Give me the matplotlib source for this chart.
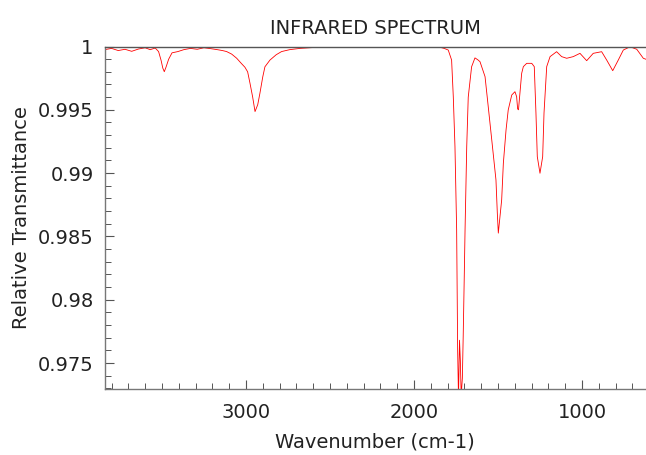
import matplotlib
matplotlib.use("Agg")
import matplotlib.pyplot as plt
from matplotlib.ticker import MultipleLocator, FuncFormatter

# Spectrum values (wavenumber cm-1, relative transmittance)
wavenumber = [
    3841, 3800, 3760, 3720, 3680, 3640, 3600, 3570, 3540, 3520, 3505, 3495, 3486,
    3475, 3460, 3440, 3405, 3370, 3330, 3290, 3250, 3210, 3170, 3140, 3115, 3085,
    3055, 3030, 3006, 2990, 2976, 2960, 2946, 2930, 2917, 2900, 2887, 2857, 2820,
    2788, 2740, 2679, 2600, 2500, 2400, 2300, 2200, 2100, 2000, 1964, 1900, 1845,
    1820, 1796, 1776, 1766, 1756, 1746, 1740, 1735, 1729, 1724, 1719, 1712, 1707,
    1701, 1696, 1686, 1677, 1657, 1637, 1620, 1607, 1577, 1558, 1537, 1512, 1504,
    1498, 1478, 1468, 1452, 1439, 1418, 1399, 1389, 1383, 1378, 1359, 1349, 1329,
    1299, 1284, 1274, 1266, 1250, 1234, 1226, 1210, 1190, 1151, 1121, 1091, 1052,
    1012, 972, 933, 883, 853, 817, 784, 754, 714, 674, 635, 619,
]
transmittance = [
    0.99975, 0.99985, 0.99968, 0.99978, 0.99962, 0.99980, 0.99990, 0.99975,
    0.99988, 0.99960, 0.99890, 0.99830, 0.99801, 0.99840, 0.99900, 0.99950,
    0.99960, 0.99975, 0.99985, 0.99978, 0.99990, 0.99983, 0.99975, 0.99968,
    0.99960, 0.99940, 0.99907, 0.99870, 0.99836, 0.99800, 0.99710, 0.99600,
    0.99486, 0.99540, 0.99630, 0.99760, 0.99840, 0.99893, 0.99935, 0.99960,
    0.99975, 0.99985, 0.99992, 0.99995, 0.99993, 0.99997, 0.99995, 0.99998,
    0.99997, 0.99998, 0.99996, 0.99994, 0.99985, 0.99972, 0.99893, 0.99604,
    0.99209, 0.98551, 0.97600, 0.97220, 0.97680, 0.97520, 0.97240, 0.97380,
    0.97710, 0.98160, 0.98550, 0.99210, 0.99600, 0.99840, 0.99910, 0.99895,
    0.99880, 0.99762, 0.99525, 0.99262, 0.98946, 0.98686, 0.98526, 0.98789,
    0.99078, 0.99341, 0.99499, 0.99617, 0.99643, 0.99604, 0.99507, 0.99500,
    0.99788, 0.99841, 0.99867, 0.99867, 0.99841, 0.99475, 0.99130, 0.98999,
    0.99130, 0.99475, 0.99841, 0.99920, 0.99959, 0.99920, 0.99907, 0.99920,
    0.99946, 0.99888, 0.99946, 0.99959, 0.99893, 0.99809, 0.99893, 0.99972,
    0.99998, 0.99978, 0.99907, 0.99899,
]
x_major_ticks = [1000, 2000, 3000]
y_major_ticks = [0.975, 0.98, 0.985, 0.99, 0.995, 1.0]

title = "INFRARED SPECTRUM"
xlabel = "Wavenumber (cm-1)"
ylabel = "Relative Transmittance"

plt.rcParams['font.family'] = ['DejaVu Sans']
text_color = '#222222'

fig = plt.figure(figsize=(6.46, 4.55), dpi=100)
ax = fig.add_axes([0.162, 0.1457, 0.838, 0.7521])

ax.plot(wavenumber, transmittance, color='#ff0000', linewidth=0.6)

ax.set_xlim(3841, 619)
ax.set_ylim(0.97297, 1.0)

ax.set_xticks(x_major_ticks)
ax.xaxis.set_minor_locator(MultipleLocator(100))
ax.set_yticks(y_major_ticks)
ax.yaxis.set_minor_locator(MultipleLocator(0.001))
ax.yaxis.set_major_formatter(FuncFormatter(lambda v, p: ('%.3f' % v).rstrip('0').rstrip('.')))

ax.tick_params(axis='both', which='both', direction='in', colors='#555555',
               labelcolor=text_color, labelsize=14, top=False, right=False)
ax.tick_params(axis='both', which='major', length=6.5, width=0.8)
ax.tick_params(axis='both', which='minor', length=4, width=0.7)
ax.tick_params(axis='y', which='major', pad=8)
ax.tick_params(axis='x', which='major', pad=10)

for name in ['left', 'bottom', 'top']:
    ax.spines[name].set_color('#777777')
    ax.spines[name].set_linewidth(1.0)
ax.spines['top'].set_color('#555555')
ax.spines['right'].set_visible(False)

ax.set_title(title, fontsize=14, color=text_color, pad=9)
ax.set_xlabel(xlabel, fontsize=14, color=text_color, labelpad=8)
ax.set_ylabel(ylabel, fontsize=14, color=text_color, labelpad=5)

fig.savefig("out.png", dpi=100)
